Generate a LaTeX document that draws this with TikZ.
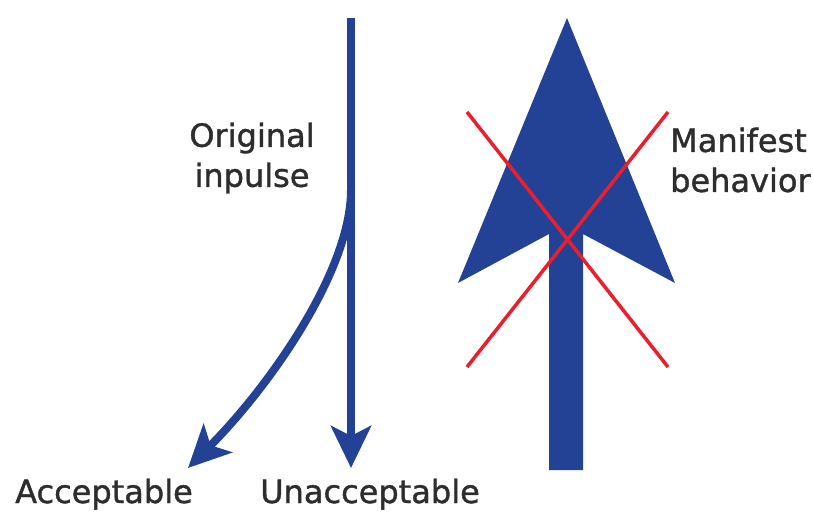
\documentclass[tikz,border=0pt]{standalone}
\usepackage{fontspec}
\setmainfont{DejaVu Sans}[FakeBold=1.2]
\definecolor{impblue}{RGB}{35, 66, 150}
\definecolor{crossred}{RGB}{235, 30, 45}
\definecolor{labelgray}{RGB}{45, 45, 45}
\usetikzlibrary{arrows.meta, positioning, calc}

\begin{document}
\begin{tikzpicture}[
  x=1pt, y=-1pt,
  lbl/.style={text=labelgray, font=\fontsize{32}{40}\selectfont, inner sep=0pt},
  impulse/.style={draw=impblue, line width=8pt, -{Stealth[length=42pt, width=40pt, inset=10pt]}},
  cross/.style={draw=crossred, line width=3.5pt}
]
  \useasboundingbox (0,0) rectangle (813,511);

  \coordinate (impTop) at (351, 18);
  \coordinate (branch) at (351, 190);
  \coordinate (unaccTip) at (351, 468);
  \coordinate (accTip) at (188, 468);

  \node[lbl, align=center] (orig) at (252, 158) {Original\\inpulse};
  \node[lbl, anchor=base] (acc) at (104, 503) {Acceptable};
  \node[lbl, anchor=base] (unacc) at (370, 503) {Unacceptable};
  \node[lbl, align=left, anchor=west] (manif) at (670, 160) {Manifest\\behavior};

  \draw[impulse] (impTop) -- (unaccTip);
  \draw[impulse] (branch) .. controls (351, 271) and (269, 387) .. (accTip);

  \fill[impblue] (567, 18) -- (675, 283) -- (583, 234) -- (583, 470)
    -- (549, 470) -- (549, 234) -- (458, 283) -- cycle;

  \draw[cross] (467, 112) -- (668, 367);
  \draw[cross] (467, 367) -- (668, 112);
\end{tikzpicture}
\end{document}
